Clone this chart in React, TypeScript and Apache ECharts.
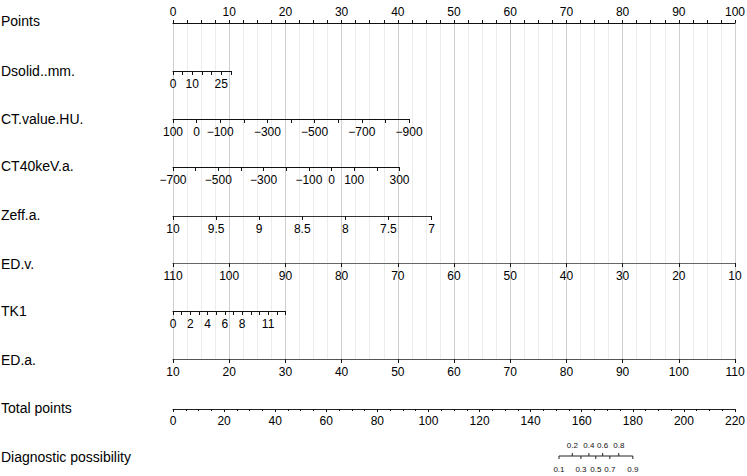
import React, { useEffect, useRef } from "react";
import * as echarts from "echarts";

// ---------- data ----------
const rowNames = [
  "Points",
  "Dsolid..mm.",
  "CT.value.HU.",
  "CT40keV.a.",
  "Zeff.a.",
  "ED.v.",
  "TK1",
  "ED.a.",
  "Total points",
  "Diagnostic possibility",
];

const pointsRange = [0, 100];
const pointsLabels = [0, 10, 20, 30, 40, 50, 60, 70, 80, 90, 100];

const dsolidRange = [0, 30];
const dsolidLabels = [0, 10, 25];
const dsolidMaxPoints = 10.3;

const ctValueRange = [100, -900];
const ctValueLabels = [100, 0, -100, -300, -500, -700, -900];
const ctValueMaxPoints = 42.0;

const ct40Range = [-700, 300];
const ct40Labels = [-700, -500, -300, -100, 0, 100, 300];
const ct40MaxPoints = 40.3;

const zeffRange = [10, 7];
const zeffLabels = [10, 9.5, 9, 8.5, 8, 7.5, 7];
const zeffMaxPoints = 46.0;

const edvRange = [110, 10];
const edvLabels = [110, 100, 90, 80, 70, 60, 50, 40, 30, 20, 10];
const edvMaxPoints = 100;

const tk1Range = [0, 13];
const tk1Labels = [0, 2, 4, 6, 8, 11];
const tk1MaxPoints = 20.0;

const edaRange = [10, 110];
const edaLabels = [10, 20, 30, 40, 50, 60, 70, 80, 90, 100, 110];
const edaMaxPoints = 100;

const totalRange = [0, 220];
const totalLabels = [0, 20, 40, 60, 80, 100, 120, 140, 160, 180, 200, 220];

const diagProbs = [0.1, 0.2, 0.3, 0.4, 0.5, 0.6, 0.7, 0.8, 0.9];
const diagTotalPoints = [151.1, 156.3, 159.7, 162.8, 165.5, 168.2, 171.0, 174.5, 180.0];

// ---------- layout ----------
const W = 747;
const H = 476;
const PLOT_LEFT = 173;
const PLOT_WIDTH = 562;
const FONT = '"Liberation Sans", Arial, Helvetica, sans-serif';

const fmt = (v: number) => (v < 0 ? "\u2212" + Math.abs(v) : String(v));
const has = (arr: number[], v: number) => arr.some((a) => Math.abs(a - v) < 1e-9);

type Row = {
  range: number[];
  labels: number[];
  maxPoints: number;
  step: number;
  lineY: number;
  color: string;
};

const rows: Row[] = [
  { range: dsolidRange, labels: dsolidLabels, maxPoints: dsolidMaxPoints, step: 5, lineY: 71, color: "#111" },
  { range: ctValueRange, labels: ctValueLabels, maxPoints: ctValueMaxPoints, step: 100, lineY: 119, color: "#111" },
  { range: ct40Range, labels: ct40Labels, maxPoints: ct40MaxPoints, step: 100, lineY: 167, color: "#111" },
  { range: zeffRange, labels: zeffLabels, maxPoints: zeffMaxPoints, step: 0.5, lineY: 216, color: "#333" },
  { range: edvRange, labels: edvLabels, maxPoints: edvMaxPoints, step: 10, lineY: 263, color: "#666" },
  { range: tk1Range, labels: tk1Labels, maxPoints: tk1MaxPoints, step: 1, lineY: 311, color: "#111" },
  { range: edaRange, labels: edaLabels, maxPoints: edaMaxPoints, step: 10, lineY: 359, color: "#555" },
];

const POINTS_Y = 23;
const TOTAL_Y = 409;
const DIAG_Y = 456;
const rowLabelY = [22, 72, 120, 167, 216, 265, 312, 361, 409, 458];

function buildOption() {
  const grid: any[] = [];
  const xAxis: any[] = [];
  const yAxis: any[] = [];
  const series: any[] = [];

  const baseGrid = { outerBoundsMode: "none", containLabel: false, show: false };
  const hiddenY = (gi: number) => ({ gridIndex: gi, type: "value", show: false, min: 0, max: 1 });

  // Points axis with the grid lines
  grid.push({ ...baseGrid, left: PLOT_LEFT, top: POINTS_Y, width: PLOT_WIDTH, height: 359 - POINTS_Y });
  xAxis.push({
    gridIndex: 0,
    type: "value",
    position: "top",
    min: pointsRange[0],
    max: pointsRange[1],
    interval: 10,
    axisLine: { show: true, onZero: false, lineStyle: { color: "#111", width: 1 } },
    axisTick: { show: true, length: 3, lineStyle: { color: "#111" } },
    minorTick: { show: true, splitNumber: 4, length: 3, lineStyle: { color: "#111" } },
    splitLine: { show: true, lineStyle: { color: "#cfcfcf", width: 1 } },
    minorSplitLine: { show: true, lineStyle: { color: "#ececec", width: 1 } },
    axisLabel: {
      show: true,
      margin: 5,
      color: "#000",
      fontSize: 12,
      fontFamily: FONT,
      showMinLabel: true,
      showMaxLabel: true,
      formatter: (v: number) => (has(pointsLabels, v) ? fmt(v) : ""),
    },
  });
  yAxis.push(hiddenY(0));

  // variable rows
  rows.forEach((r, i) => {
    const gi = grid.length;
    const inverse = r.range[0] > r.range[1];
    grid.push({
      ...baseGrid,
      left: PLOT_LEFT,
      top: r.lineY - 1,
      width: (r.maxPoints / (pointsRange[1] - pointsRange[0])) * PLOT_WIDTH,
      height: 1,
    });
    xAxis.push({
      gridIndex: gi,
      type: "value",
      position: "bottom",
      inverse,
      min: Math.min(r.range[0], r.range[1]),
      max: Math.max(r.range[0], r.range[1]),
      interval: r.step,
      splitLine: { show: false },
      axisLine: { show: true, onZero: false, lineStyle: { color: r.color, width: 1 } },
      axisTick: { show: true, length: 4, lineStyle: { color: "#111" } },
      axisLabel: {
        show: true,
        margin: 7,
        color: "#000",
        fontSize: 12,
        fontFamily: FONT,
        showMinLabel: true,
        showMaxLabel: true,
        formatter: (v: number) => (has(r.labels, v) ? fmt(v) : ""),
      },
    });
    yAxis.push(hiddenY(gi));
  });

  // Total points
  {
    const gi = grid.length;
    grid.push({ ...baseGrid, left: PLOT_LEFT, top: TOTAL_Y - 1, width: PLOT_WIDTH, height: 1 });
    xAxis.push({
      gridIndex: gi,
      type: "value",
      position: "bottom",
      min: totalRange[0],
      max: totalRange[1],
      interval: 20,
      splitLine: { show: false },
      axisLine: { show: true, onZero: false, lineStyle: { color: "#222", width: 1 } },
      axisTick: { show: true, length: 3, lineStyle: { color: "#111" } },
      minorTick: { show: true, splitNumber: 4, length: 2, lineStyle: { color: "#111" } },
      axisLabel: {
        show: true,
        margin: 6,
        color: "#000",
        fontSize: 12,
        fontFamily: FONT,
        showMinLabel: true,
        showMaxLabel: true,
        formatter: (v: number) => (has(totalLabels, v) ? fmt(v) : ""),
      },
    });
    yAxis.push(hiddenY(gi));
  }

  // Diagnostic possibility (non-linear scale, placed on total points scale)
  {
    const gi = grid.length;
    grid.push({ ...baseGrid, left: PLOT_LEFT, top: DIAG_Y - 1, width: PLOT_WIDTH, height: 1 });
    xAxis.push({ gridIndex: gi, type: "value", show: false, min: totalRange[0], max: totalRange[1] });
    yAxis.push(hiddenY(gi));
    const last = diagTotalPoints.length - 1;
    series.push({
      type: "custom",
      xAxisIndex: gi,
      yAxisIndex: gi,
      silent: true,
      data: diagTotalPoints.map((tp, i) => [tp, diagProbs[i]]),
      renderItem: (params: any, api: any) => {
        const idx = params.dataIndex;
        const p = api.coord([api.value(0), 0]);
        const x = p[0];
        const y = p[1];
        const above = idx % 2 === 1;
        const children: any[] = [];
        if (idx === 0) {
          const pe = api.coord([diagTotalPoints[last], 0]);
          children.push({
            type: "line",
            shape: { x1: x, y1: y, x2: pe[0], y2: y },
            style: { stroke: "#222", lineWidth: 1 },
          });
        }
        children.push({
          type: "line",
          shape: { x1: x, y1: y, x2: x, y2: above ? y - 3 : y + 3 },
          style: { stroke: "#222", lineWidth: 1 },
        });
        children.push({
          type: "text",
          style: {
            text: String(api.value(1)),
            x,
            y: above ? y - 11 : y + 13,
            align: "center",
            verticalAlign: "middle",
            fontSize: 8,
            fontFamily: FONT,
            fill: "#111",
          },
        });
        return { type: "group", children };
      },
    });
  }

  const graphic = rowNames.map((name, i) => ({
    type: "text",
    left: 1,
    top: rowLabelY[i] - 8,
    style: { text: name, fontSize: 14, fontFamily: FONT, fill: "#000" },
  }));

  return {
    animation: false,
    backgroundColor: "#fff",
    grid,
    xAxis,
    yAxis,
    series,
    graphic,
  };
}

export default function App() {
  const ref = useRef<HTMLDivElement>(null);
  useEffect(() => {
    if (!ref.current) return;
    const chart = echarts.init(ref.current, undefined, { renderer: "svg" });
    chart.setOption(buildOption() as any);
    return () => chart.dispose();
  }, []);
  return (
    <div
      ref={ref}
      style={{ position: "fixed", left: 0, top: 0, width: W, height: H, background: "#fff" }}
    />
  );
}
